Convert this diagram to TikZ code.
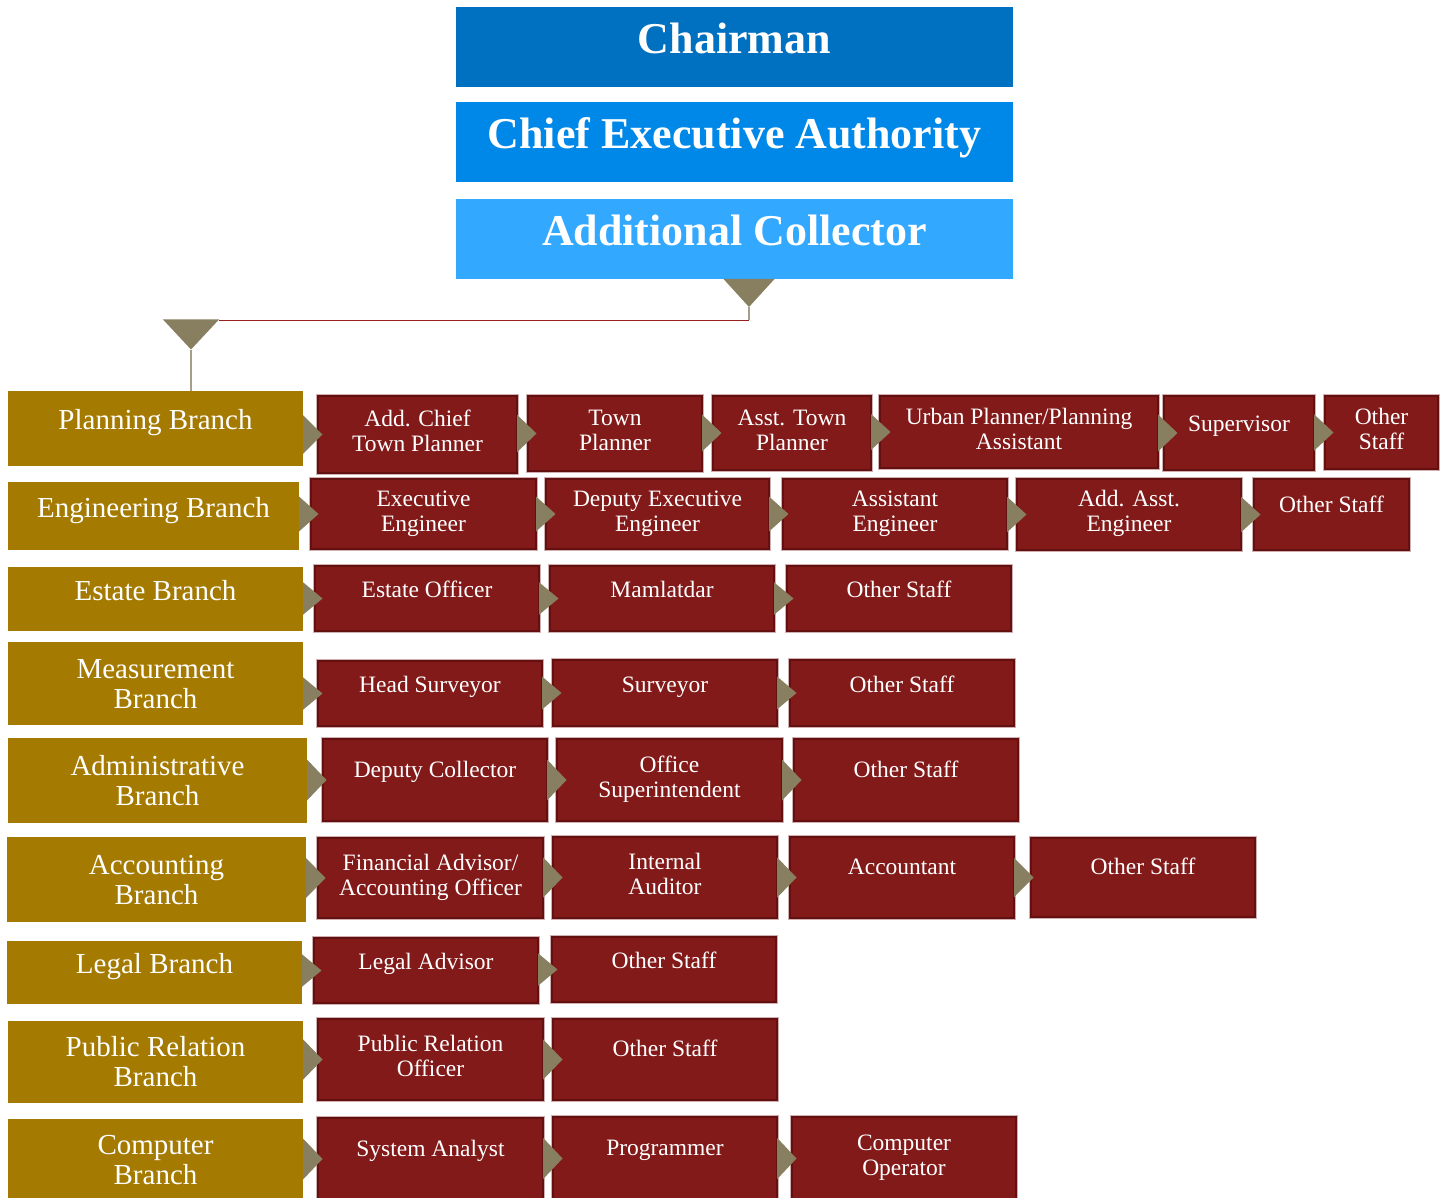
\documentclass[tikz,border=0pt]{standalone}
\usepackage{fontspec}
\setmainfont{Liberation Serif}
\usetikzlibrary{calc}

\definecolor{chairblue}{HTML}{0070C0}
\definecolor{ceablue}{HTML}{0088E8}
\definecolor{acblue}{HTML}{33A8FF}
\definecolor{branchgold}{HTML}{A47A00}
\definecolor{boxred}{HTML}{831A1A}
\definecolor{borderred}{HTML}{641010}
\definecolor{edgepink}{HTML}{CFAFAF}
\definecolor{tricol}{HTML}{877F60}
\definecolor{stemgray}{HTML}{A69F88}
\definecolor{linered}{HTML}{9A1F1F}

\tikzset{
  topbox/.style={inner sep=0, outer sep=0},
  goldbox/.style={fill=branchgold, inner sep=0, outer sep=0},
  redbox/.style={fill=boxred, draw=borderred, line width=1.6pt,
    preaction={draw=edgepink, line width=3.4pt}, inner sep=0, outer sep=0},
  toptxt/.style={text=white, anchor=base, inner sep=0, font={\fontsize{44}{48}\selectfont\bfseries}},
  goldtxt/.style={text=white, align=center, anchor=base, inner sep=0, font={\fontsize{29}{30}\selectfont}},
  redtxt/.style={text=white, align=center, anchor=base, inner sep=0, font={\fontsize{23.5}{25}\selectfont}},
  tri/.style={fill=tricol},
  stem/.style={draw=stemgray, line width=1.2pt},
  hline/.style={draw=linered, line width=1.3pt},
}

% top-level box: name, colour, y1, y2, text
\newcommand\tbx[5]{%
  \node[topbox, fill=#2, minimum width=557, minimum height={#4-#3}] (#1) at (734.5,{(#3+#4)/2}) {};
  \node[toptxt] at (734.5,{(#3+#4)/2+6.5}) {#5};}
% branch box: name, x1, y1, x2, y2, offset of the last baseline, text
\newcommand\gbx[7]{%
  \node[goldbox, minimum width={#4-#2}, minimum height={#5-#3}] (#1) at ({(#2+#4)/2},{(#3+#5)/2}) {};
  \node[goldtxt] at ({(#2+#4)/2},{(#3+#5)/2+#6}) {#7};}
% post box: name, x1, y1, x2, y2, offset of the last baseline, text
\newcommand\rbx[7]{%
  \node[redbox, minimum width={#4-#2}, minimum height={#5-#3}] (#1) at ({(#2+#4)/2},{(#3+#5)/2}) {};
  \node[redtxt] at ({(#2+#4)/2},{(#3+#5)/2+#6}) {#7};}
% chevron from one box to the next
\newcommand\arr[2]{%
  \fill[tri] let \p1=(#1.east), \p2=(#2.north), \p3=(#2.south) in
    (\x1,{(\y2+\y3)/2+(\y2-\y3)/4}) -- ({\x1+19.5pt},{(\y2+\y3)/2})
    -- (\x1,{(\y2+\y3)/2-(\y2-\y3)/4}) -- cycle;}

\begin{document}
\begin{tikzpicture}[x=1pt,y=-1pt]
\path[use as bounding box] (0,0) rectangle (1443,1198);
\clip (0,0) rectangle (1443,1198);
\fill[white] (0,0) rectangle (1443,1198);

% head of the organisation
\tbx{chair}{chairblue}{7}{87}{Chairman}
\tbx{cea}{ceablue}{102}{182}{Chief Executive Authority}
\tbx{ac}{acblue}{199}{279}{Additional Collector}

% branches
\gbx{plan}{8}{391}{303}{466}{1}{Planning Branch}
\gbx{eng}{8}{482}{299}{550}{1}{Engineering Branch}
\gbx{est}{8}{567}{303}{631}{1}{Estate Branch}
\gbx{meas}{8}{642}{303}{725}{24.5}{Measurement\\Branch}
\gbx{adm}{8}{738}{307}{823}{24.5}{Administrative\\Branch}
\gbx{acc}{7}{837}{306}{922}{24.5}{Accounting\\Branch}
\gbx{leg}{7}{941}{302}{1004}{1}{Legal Branch}
\gbx{pr}{8}{1021}{303}{1103}{24.5}{Public Relation\\Branch}
\gbx{comp}{8}{1119}{303}{1200}{24.5}{Computer\\Branch}

% planning
\rbx{p1}{318}{396}{517}{473}{17}{Add. Chief\\Town Planner}
\rbx{p2}{528}{396}{702}{471}{17}{Town\\Planner}
\rbx{p3}{713}{396}{871}{470}{17}{Asst. Town\\Planner}
\rbx{p4}{880}{396}{1158}{468}{17}{Urban Planner/Planning\\Assistant}
\rbx{p5}{1164}{396}{1314}{470}{-2}{Supervisor}
\rbx{p6}{1325}{396}{1438}{469}{17}{Other\\Staff}
% engineering
\rbx{e1}{311}{479}{536}{549}{17}{Executive\\Engineer}
\rbx{e2}{546}{479}{769}{549}{17}{Deputy Executive\\Engineer}
\rbx{e3}{783}{479}{1007}{549}{17}{Assistant\\Engineer}
\rbx{e4}{1017}{479}{1241}{550}{17}{Add. Asst.\\Engineer}
\rbx{e5}{1254}{479}{1409}{550}{-2}{Other Staff}
% estate
\rbx{s1}{315}{566}{539}{631}{-1}{Estate Officer}
\rbx{s2}{550}{566}{774}{631}{-1}{Mamlatdar}
\rbx{s3}{787}{566}{1011}{631}{-1}{Other Staff}
% measurement
\rbx{m1}{318}{661}{542}{726}{-1}{Head Surveyor}
\rbx{m2}{553}{660}{777}{726}{-1}{Surveyor}
\rbx{m3}{790}{660}{1014}{726}{-1}{Other Staff}
% administration
\rbx{a1}{323}{739}{547}{821}{-3}{Deputy Collector}
\rbx{a2}{557}{739}{782}{821}{17}{Office\\Superintendent}
\rbx{a3}{794}{739}{1018}{821}{-3}{Other Staff}
% accounting
\rbx{c1}{318}{838}{543}{918}{17}{Financial Advisor/\\Accounting Officer}
\rbx{c2}{553}{837}{777}{918}{17}{Internal\\Auditor}
\rbx{c3}{790}{837}{1014}{918}{-3}{Accountant}
\rbx{c4}{1031}{838}{1255}{917}{-3}{Other Staff}
% legal
\rbx{l1}{314}{938}{538}{1003}{-1}{Legal Advisor}
\rbx{l2}{552}{937}{776}{1002}{-1}{Other Staff}
% public relations
\rbx{r1}{318}{1019}{543}{1100}{17}{Public Relation\\Officer}
\rbx{r2}{553}{1019}{777}{1100}{-3}{Other Staff}
% computer
\rbx{k1}{318}{1118}{543}{1200}{-3}{System Analyst}
\rbx{k2}{553}{1117}{777}{1200}{-3}{Programmer}
\rbx{k3}{792}{1117}{1016}{1200}{17}{Computer\\Operator}

% chevrons along each row
\arr{plan}{p1}\arr{p1}{p2}\arr{p2}{p3}\arr{p3}{p4}\arr{p4}{p5}\arr{p5}{p6}
\arr{eng}{e1}\arr{e1}{e2}\arr{e2}{e3}\arr{e3}{e4}\arr{e4}{e5}
\arr{est}{s1}\arr{s1}{s2}\arr{s2}{s3}
\arr{meas}{m1}\arr{m1}{m2}\arr{m2}{m3}
\arr{adm}{a1}\arr{a1}{a2}\arr{a2}{a3}
\arr{acc}{c1}\arr{c1}{c2}\arr{c2}{c3}\arr{c3}{c4}
\arr{leg}{l1}\arr{l1}{l2}
\arr{pr}{r1}\arr{r1}{r2}
\arr{comp}{k1}\arr{k1}{k2}\arr{k2}{k3}

% link from the Additional Collector down to the branches
\coordinate (dropR) at ($(ac.south)+(14.5,0)$);
\coordinate (tipR) at ($(dropR)+(0,28)$);
\coordinate (bend) at ($(dropR)+(0,41.5)$);
\coordinate (pn) at ($(plan.north)+(35.5,0)$);
\coordinate (dropL) at (pn |- bend);
\fill[tri] ($(dropR)+(-25.5,0)$) -- ($(dropR)+(25.5,0)$) -- (tipR) -- cycle;
\draw[stem] (tipR) -- (bend);
\draw[hline] (bend) -- ($(dropL)+(28,0)$);
\fill[tri] ($(dropL)+(-28,-1)$) -- ($(dropL)+(28,-1)$) -- ($(dropL)+(0,29)$) -- cycle;
\draw[stem] ($(dropL)+(0,29)$) -- (pn);
\end{tikzpicture}
\end{document}
